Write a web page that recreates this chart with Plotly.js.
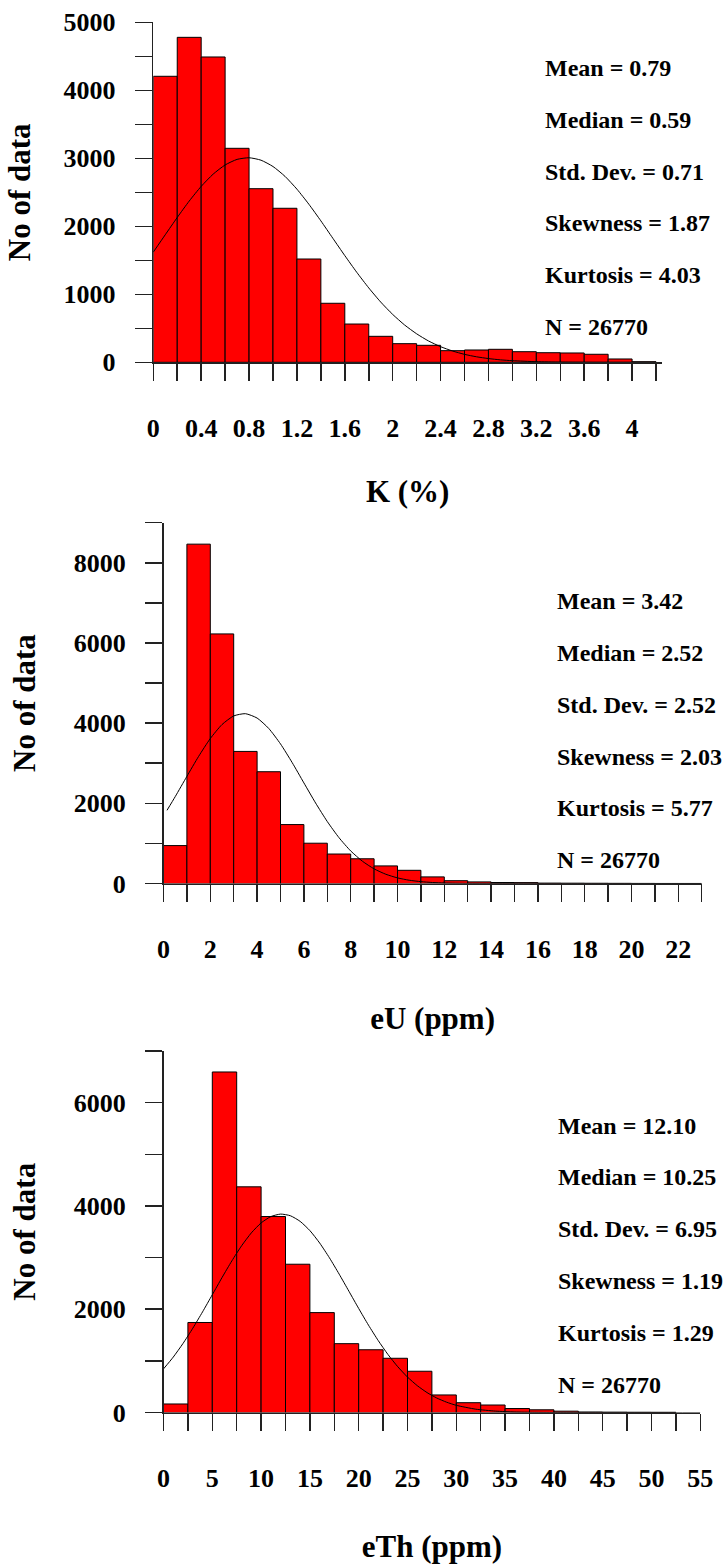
<!DOCTYPE html>
<html>
<head>
<meta charset="utf-8">
<script src="https://cdn.plot.ly/plotly-3.0.1.min.js"></script>
<style>html,body{margin:0;padding:0;background:#fff;}#chart{width:726px;height:1564px;}</style>
</head>
<body>
<div id="chart"></div>
<script>
// ---------- data ----------
// K (%) histogram, bin width 0.2, bins start at 0
const kBinWidth = 0.2;
const kCounts = [4206, 4779, 4490, 3147, 2553, 2265, 1519, 868, 563, 382, 274, 250, 171, 181, 191, 156, 141, 137, 118, 49, 8];
const kCurveX = [0, 0.1, 0.2, 0.3, 0.4, 0.5, 0.6, 0.7, 0.8, 0.9, 1.0, 1.1, 1.2, 1.3, 1.4, 1.5, 1.6, 1.7, 1.8, 1.9, 2.0, 2.1, 2.2, 2.3, 2.4, 2.5, 2.6, 2.7, 2.8, 2.9, 3.0, 3.2, 3.4, 3.6, 3.8, 4.0, 4.2];
const kCurveY = [1620, 1876, 2130, 2371, 2587, 2767, 2902, 2984, 3008, 2972, 2879, 2735, 2546, 2324, 2080, 1824, 1569, 1323, 1094, 886, 704, 548, 419, 313, 230, 166, 117, 81, 55, 36, 24, 9, 3, 1, 0, 0, 0];
const kStats = ["Mean = 0.79", "Median = 0.59", "Std. Dev. = 0.71", "Skewness = 1.87", "Kurtosis = 4.03", "N = 26770"];

// eU (ppm) histogram, bin width 1
const uBinWidth = 1;
const uCounts = [946, 8465, 6226, 3295, 2788, 1470, 1005, 735, 617, 439, 329, 165, 70, 40, 25, 22, 10, 8, 6, 4, 2, 1, 1];
const uCurveX = [0.15, 0.5, 1.0, 1.5, 2.0, 2.5, 3.0, 3.5, 4.0, 4.5, 5.0, 5.5, 6.0, 6.5, 7.0, 7.5, 8.0, 8.5, 9.0, 9.5, 10.0, 10.5, 11.0, 11.5, 12.0, 13.0, 14.0, 15.0, 17.0, 19.0, 21.0, 23.0];
const uCurveY = [1826, 2166, 2673, 3170, 3616, 3965, 4180, 4236, 4127, 3866, 3482, 3015, 2509, 2008, 1545, 1143, 812, 556, 365, 231, 140, 82, 46, 25, 13, 3, 1, 0, 0, 0, 0, 0];
const uStats = ["Mean = 3.42", "Median = 2.52", "Std. Dev. = 2.52", "Skewness = 2.03", "Kurtosis = 5.77", "N = 26770"];

// eTh (ppm) histogram, bin width 2.5
const thBinWidth = 2.5;
const thCounts = [165, 1743, 6594, 4370, 3795, 2871, 1934, 1333, 1215, 1050, 799, 340, 190, 145, 77, 52, 26, 10, 7, 5, 4];
const thCurveX = [0, 1, 2, 3, 4, 5, 6, 7, 8, 9, 10, 11, 12, 13, 14, 15, 16, 17, 18, 19, 20, 21, 22, 23, 24, 25, 26, 27, 28, 29, 30, 32, 34, 36, 38, 40, 45, 50, 55];
const thCurveY = [844, 1073, 1337, 1631, 1948, 2280, 2614, 2935, 3228, 3478, 3671, 3794, 3842, 3810, 3701, 3522, 3282, 2996, 2679, 2347, 2014, 1692, 1393, 1123, 887, 686, 520, 386, 280, 200, 139, 64, 27, 10, 4, 1, 0, 0, 0];
const thStats = ["Mean = 12.10", "Median = 10.25", "Std. Dev. = 6.95", "Skewness = 1.19", "Kurtosis = 1.29", "N = 26770"];

const xTitles = ["K (%)", "eU (ppm)", "eTh (ppm)"];
const yTitle = "No of data";

// ---------- layout helpers ----------
const W = 726, H = 1564;
const FONT = "Liberation Serif, Times New Roman, serif";
const px = v => v / W;
const py = v => 1 - v / H;

const panels = [
  {counts: kCounts, bw: kBinWidth, cx: kCurveX, cy: kCurveY, stats: kStats,
   xr: [0, 4.25], xd: 0.4, xm: 0.2, yr: [0, 5000], yd: 1000, ym: 500,
   left: 153.3, right: 662, top: 22.3, bottom: 362.3, statX: 543, statY: [68.3, 120, 172.3, 223.3, 275, 326.7],
   xso: 38, yso: 23},
  {counts: uCounts, bw: uBinWidth, cx: uCurveX, cy: uCurveY, stats: uStats,
   xr: [0, 23], xd: 2, xm: 1, yr: [0, 9000], yd: 2000, ym: 1000,
   left: 163.5, right: 701.7, top: 522.7, bottom: 883.5, statX: 555, statY: [600.6, 652.5, 705, 756.5, 807.7, 859.5],
   xso: 44, yso: 29},
  {counts: thCounts, bw: thBinWidth, cx: thCurveX, cy: thCurveY, stats: thStats,
   xr: [0, 55], xd: 5, xm: 2.5, yr: [0, 7000], yd: 2000, ym: 1000,
   left: 163.5, right: 700.3, top: 1051, bottom: 1412.5, statX: 556, statY: [1125.6, 1176.8, 1229, 1280.9, 1332.8, 1384.5],
   xso: 47, yso: 29}
];

const traces = [];
const layout = {
  width: W, height: H,
  margin: {l: 0, r: 0, t: 0, b: 0},
  paper_bgcolor: "#fff", plot_bgcolor: "#fff",
  showlegend: false,
  font: {family: FONT, color: "#000"},
  annotations: []
};

panels.forEach((p, i) => {
  const n = i === 0 ? "" : String(i + 1);
  const xa = "x" + n, ya = "y" + n;
  traces.push({
    type: "bar", xaxis: xa, yaxis: ya,
    x: p.counts.map((_, j) => j * p.bw), y: p.counts,
    width: p.bw, offset: 0,
    marker: {color: "#ff0000", line: {color: "#000", width: 1}},
    hoverinfo: "skip"
  });
  traces.push({
    type: "scatter", mode: "lines", xaxis: xa, yaxis: ya,
    x: p.cx, y: p.cy, line: {color: "#000", width: 1, shape: "spline", smoothing: 0.6},
    hoverinfo: "skip", cliponaxis: false
  });
  const tickCommon = {
    ticks: "outside", ticklen: 17, tickwidth: 1.5, tickcolor: "#222",
    showline: true, linecolor: "#222", linewidth: 1.5,
    showgrid: false, zeroline: false,
    tickfont: {family: FONT, size: 26, color: "#000", weight: "bold"}
  };
  layout["xaxis" + n] = Object.assign({}, tickCommon, {
    anchor: ya, domain: [px(p.left), px(p.right)], range: p.xr,
    tickmode: "linear", tick0: 0, dtick: p.xd,
    minor: {tick0: 0, dtick: p.xm, ticks: "outside", ticklen: 17, tickwidth: 1.5, tickcolor: "#222", showgrid: false},
    ticklabelstandoff: 25,
    title: {text: xTitles[i], font: {family: FONT, size: 31, color: "#000", weight: "bold"}, standoff: p.xso}
  });
  layout["yaxis" + n] = Object.assign({}, tickCommon, {
    anchor: xa, domain: [py(p.bottom), py(p.top)], range: p.yr,
    tickmode: "linear", tick0: 0, dtick: p.yd,
    minor: {tick0: 0, dtick: p.ym, ticks: "outside", ticklen: 17, tickwidth: 1.5, tickcolor: "#222", showgrid: false},
    ticklabelstandoff: 14,
    title: {text: yTitle, font: {family: FONT, size: 31, color: "#000", weight: "bold"}, standoff: p.yso}
  });
  p.stats.forEach((s, j) => {
    layout.annotations.push({
      xref: "paper", yref: "paper", x: px(p.statX), y: py(p.statY[j]),
      xanchor: "left", yanchor: "middle", showarrow: false, text: s,
      font: {family: FONT, size: 24, color: "#000", weight: "bold"}
    });
  });
});

Plotly.newPlot("chart", traces, layout, {staticPlot: true, displayModeBar: false});
</script>
</body>
</html>
